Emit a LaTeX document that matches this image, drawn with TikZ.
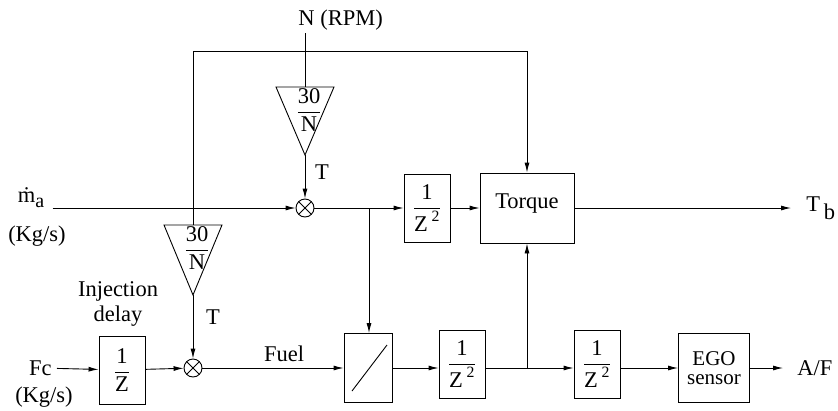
\documentclass[tikz,border=0pt]{standalone}
\usepackage{amsmath}
\usepackage{fontspec}
\setmainfont{Liberation Serif}
\usetikzlibrary{arrows.meta,positioning}

\begin{document}
\begin{tikzpicture}[x=1pt,y=-1pt,line width=0.9pt,font=\fontsize{22.5}{25}\selectfont]
  % Define block, multiplier and arrow styles
  \tikzstyle{myblock} = [draw, rectangle, minimum width=46pt,
  minimum height=68pt, inner sep=0pt]
  \tikzstyle{mymult} = [draw, circle, minimum size=18pt, inner sep=0pt,
  path picture={\draw (path picture bounding box.south west) -- (path picture bounding box.north east)
    (path picture bounding box.north west) -- (path picture bounding box.south east);}]
  \tikzstyle{myarrow} = [-{Latex[length=10pt,width=5pt]}]

  \useasboundingbox (0,0) rectangle (838,410);

  % inputs and outputs
  \node[anchor=south west, inner sep=2pt] (rpm) at (296,33) {N (RPM)};
  \node[inner sep=0pt] (ma) at (31,198) {\.m\raisebox{-5pt}{\fontsize{20}{22}\selectfont a}};
  \node (kga) at (37,236) {(Kg/s)};
  \node[anchor=east, inner xsep=5pt] (fc) at (57,368) {Fc};
  \node (kgfc) at (44,397) {(Kg/s)};
  \node[anchor=west, inner xsep=15pt] (tb) at (791,208) {T\,\raisebox{-8pt}{b}};
  \node[anchor=west, inner xsep=14pt] (af) at (783,368) {A/F};

  % gains 30/N
  \coordinate (g1top) at (305,87);
  \coordinate (g1tip) at (305,155);
  \coordinate (g2top) at (193,225);
  \coordinate (g2tip) at (193,295);
  \draw (g1top) ++(-29,0) -- ++(58,0) -- (g1tip) -- cycle;
  \draw (g2top) ++(-29,0) -- ++(58,0) -- (g2tip) -- cycle;
  \node (g1frac) at (309,110) {$\dfrac{\text{30}}{\text{N}}$};
  \node (g2frac) at (197,248) {$\dfrac{\text{30}}{\text{N}}$};

  % multipliers
  \node[mymult] (mul1) at (305,208) {};
  \node[mymult] (mul2) at (193,368) {};
  \node (t1) at (322,172) {T};
  \node (t2) at (213,317) {T};

  % blocks
  \node[myblock] (delay) at (122,370) {$\dfrac{\text{1}}{\text{Z}}$};
  \node[align=center] (inj) at (118,304) {Injection\\delay};
  \node[myblock] (z2a) at (427,208) {$\dfrac{\text{1}}{\text{Z\,}^{\text{2}}}$};
  \node[draw, minimum width=94pt, minimum height=70pt] (torque) at (527,208) {};
  \node (torquetxt) at (527,204) {Torque};
  \node[draw, minimum width=48pt, minimum height=69pt] (slash) at (368,368) {};
  \draw (352,391) -- (387,345);
  \node (fuel) at (284,354) {Fuel};
  \node[myblock] (z2b) at (462,364) {$\dfrac{\text{1}}{\text{Z\,}^{\text{2}}}$};
  \node[myblock] (z2c) at (597,364) {$\dfrac{\text{1}}{\text{Z\,}^{\text{2}}}$};
  \node[draw, minimum width=71pt, minimum height=69pt, align=center,
  font=\fontsize{21}{23}\selectfont] (ego) at (714,368) {EGO\\[-4pt]sensor};

  \coordinate (loopl) at (193,51);
  \coordinate (br1) at (369,208);
  \coordinate (br2) at (527,368);

  % connections
  \draw (rpm.south -| g1top) -- (g1top);
  \draw[myarrow] (g1tip) -- (mul1);
  \draw[myarrow] (g2tip) -- (mul2);
  \draw[myarrow] (g2top) -- (loopl) -| (torque.north);
  \draw[myarrow] (ma.east |- mul1) ++(8,0) -- (mul1);
  \draw[myarrow] (mul1) -- (z2a);
  \draw[myarrow] (br1) -- (br1 |- slash.north);
  \draw[myarrow] (z2a) -- (torque);
  \draw[myarrow] (torque) -- (tb.west);
  \draw[myarrow] (fc) -- (delay);
  \draw[myarrow] (delay) -- (mul2);
  \draw[myarrow] (mul2) -- (slash);
  \draw[myarrow] (slash) -- (slash -| z2b.west);
  \draw[myarrow] (z2b.east |- slash) -- (slash -| z2c.west);
  \draw[myarrow] (br2) -- (torque.south);
  \draw[myarrow] (z2c.east |- ego) -- (ego);
  \draw[myarrow] (ego) -- (af.west);
\end{tikzpicture}
\end{document}
